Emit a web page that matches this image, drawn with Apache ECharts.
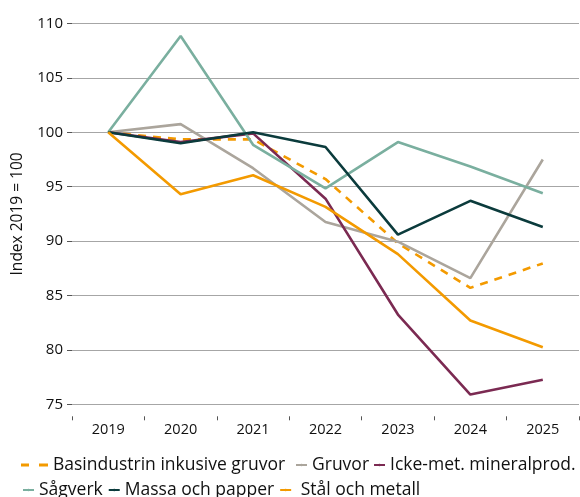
<!DOCTYPE html>
<html>
<head>
<meta charset="utf-8">
<script src="https://cdn.jsdelivr.net/npm/echarts@6/dist/echarts.min.js"></script>
<style>html,body{margin:0;padding:0;background:#fff}#c{width:580px;height:497px}</style>
</head>
<body>
<div id="c"></div>
<script>
const years = ['2019','2020','2021','2022','2023','2024','2025'];
const basindustri = [100, 99.35, 99.35, 95.7, 89.8, 85.7, 87.95];
const gruvor = [100, 100.75, 96.7, 91.75, 89.95, 86.6, 97.5];
const ickeMet = [100, 99.1, 99.9, 93.9, 83.25, 75.9, 77.25];
const sagverk = [100, 108.85, 98.85, 94.85, 99.1, 96.85, 94.4];
const massa = [100, 99.0, 100.0, 98.65, 90.6, 93.7, 91.3];
const stal = [100, 94.3, 96.05, 93.15, 88.8, 82.7, 80.25];
const yTicks = [75, 80, 85, 90, 95, 100, 105, 110];

const FONT = 'Open Sans';
const chart = echarts.init(document.getElementById('c'), null, {renderer: 'canvas'});

function line(name, data, color, dashed) {
  return {
    name, type: 'line', data, showSymbol: false, symbol: 'none',
    lineStyle: {color, width: 2.6, type: dashed ? [8, 7] : 'solid'},
    itemStyle: {color},
    emphasis: {disabled: true}, animation: false
  };
}

const legendText = {fontFamily: FONT, fontSize: 17.5, color: '#111'};

chart.setOption({
  animation: false,
  grid: {left: 72, right: 1, top: 23.5, bottom: 92.7},
  xAxis: {
    type: 'category', data: years, boundaryGap: true, offset: 12,
    axisLine: {show: false},
    axisTick: {show: true, length: 4, lineStyle: {color: '#555', width: 1}},
    axisLabel: {fontFamily: FONT, fontSize: 14.5, color: '#111', margin: 6},
    splitLine: {show: false}
  },
  yAxis: {
    type: 'value', min: yTicks[0], max: yTicks[yTicks.length - 1], interval: 5,
    name: 'Index 2019 = 100', nameLocation: 'middle', nameGap: 46,
    nameTextStyle: {fontFamily: FONT, fontSize: 15.5, color: '#111'},
    axisLine: {show: false},
    axisTick: {show: true, length: 5, lineStyle: {color: '#555'}},
    axisLabel: {fontFamily: FONT, fontSize: 15, color: '#111', margin: 9},
    splitLine: {lineStyle: {color: '#a6a6a6', width: 1.2}}
  },
  legend: [
    {data: [{name: 'Basindustrin inkusive gruvor', icon: 'path://M0,0H8V3H0Z M18,0H27V3H18Z'}],
     left: 21, top: 456, itemWidth: 27, itemHeight: 3, itemGap: 4,
     textStyle: legendText, padding: 0, selectedMode: false},
    {data: ['Gruvor', 'Icke-met. mineralprod.'], left: 295, top: 456, itemWidth: 11, itemHeight: 3, itemGap: 4,
     textStyle: legendText, padding: 0, selectedMode: false},
    {data: ['Sågverk', 'Massa och papper', 'Stål och metall'], left: 22, top: 481, itemWidth: 11, itemHeight: 3, itemGap: 5,
     textStyle: legendText, padding: 0, selectedMode: false,
     formatter: n => n === 'Stål och metall' ? ' ' + n : n}
  ],
  series: [
    line('Basindustrin inkusive gruvor', basindustri, '#f39a00', true),
    line('Gruvor', gruvor, '#aba59c', false),
    line('Icke-met. mineralprod.', ickeMet, '#7b2a52', false),
    line('Sågverk', sagverk, '#7aaf9f', false),
    line('Massa och papper', massa, '#0b3b3c', false),
    line('Stål och metall', stal, '#f39a00', false)
  ]
});
</script>
</body>
</html>
